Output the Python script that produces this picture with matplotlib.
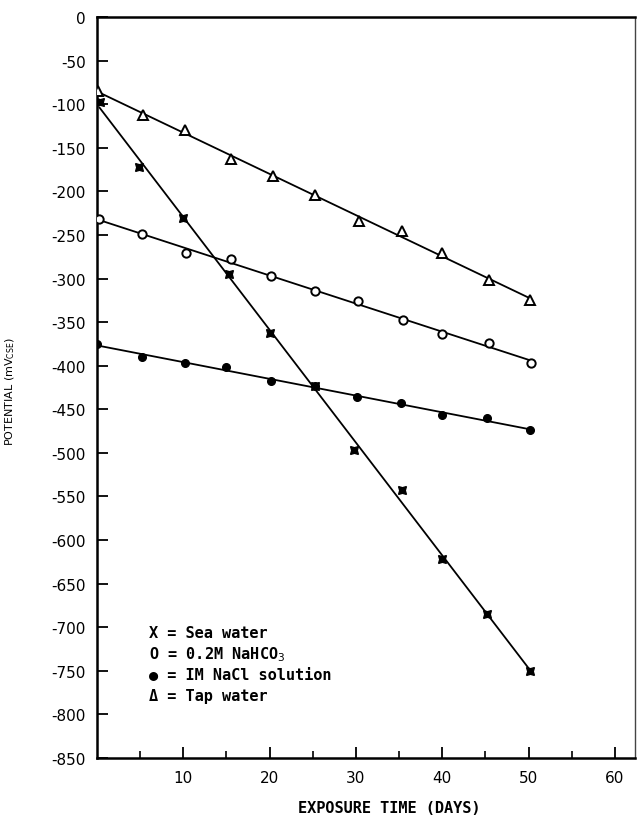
# potential vs exposure time, four electrolytes
import numpy as np
import matplotlib
matplotlib.use('Agg')
from matplotlib import pyplot as plt

plt.rcParams['axes.unicode_minus'] = False

# data (days, mV_CSE)
sea_days = [0.3, 4.9, 10.0, 15.3, 20.1, 25.2, 29.8, 35.3, 40.0, 45.2, 50.2]
sea_mv = [-97, -172, -230, -295, -362, -423, -497, -543, -622, -685, -750]

bicarb_days = [0.2, 5.2, 10.3, 15.5, 20.2, 25.3, 30.2, 35.5, 40.0, 45.4, 50.3]
bicarb_mv = [-232, -249, -271, -277, -297, -314, -326, -348, -364, -374, -397]

nacl_days = [0.0, 5.2, 10.2, 14.9, 20.2, 25.2, 30.1, 35.2, 40.0, 45.2, 50.2]
nacl_mv = [-375, -390, -397, -401, -418, -423, -436, -443, -457, -460, -474]

tap_days = [0.1, 5.3, 10.2, 15.5, 20.4, 25.2, 30.4, 35.3, 40.0, 45.4, 50.2]
tap_mv = [-85, -112, -130, -163, -182, -204, -234, -246, -271, -302, -325]

legend_lines = ['X = Sea water', 'O = 0.2M NaHCO$_3$',
                '\u25CF = IM NaCl solution', '\u0394 = Tap water']

fig = plt.figure(figsize=(6.38, 8.2), dpi=100)
ax = fig.add_axes([0.152, 0.0744, 0.843, 0.9036])

series = [
    (sea_days, sea_mv, dict(marker=(4, 1, 45), ms=8, mfc='k', mec='k', mew=1.0)),
    (bicarb_days, bicarb_mv, dict(marker='o', ms=6, mfc='white', mec='k', mew=1.4)),
    (nacl_days, nacl_mv, dict(marker='o', ms=5.5, mfc='k', mec='k')),
    (tap_days, tap_mv, dict(marker='^', ms=7, mfc='white', mec='k', mew=1.4)),
]
for d, v, style in series:
    d = np.array(d)
    v = np.array(v)
    k, b = np.polyfit(d, v, 1)
    xx = np.array([d[0], d[-1]])
    ax.plot(xx, k * xx + b, color='k', lw=1.3, zorder=2)
    ax.plot(d, v, ls='none', zorder=3, **style)

ax.set_xlim(0, 62.3)
ax.set_ylim(-850, 0)
ax.set_xticks([10, 20, 30, 40, 50, 60])
ax.set_xticks([5, 15, 25, 35, 45, 55], minor=True)
ax.set_yticks(np.arange(-850, 1, 50))
ax.tick_params(axis='both', direction='in', length=8, width=1.3,
               labelsize=11, colors='k')
ax.tick_params(axis='x', pad=9)
ax.tick_params(axis='y', pad=8)
ax.tick_params(axis='x', which='minor', direction='in', length=5, width=1.2)

for s in ['left', 'bottom', 'top']:
    ax.spines[s].set_linewidth(1.8)
ax.spines['right'].set_linewidth(1.0)
ax.spines['right'].set_color('#444444')

for i, t in enumerate(legend_lines):
    fig.text(149 / 638, 1 - (634 + 21 * i) / 820, t, fontsize=11,
             family='DejaVu Sans Mono', weight='bold', va='center', ha='left')

fig.text(389 / 638, 1 - 809 / 820, 'EXPOSURE TIME (DAYS)', fontsize=11,
         family='DejaVu Sans Mono', weight='bold', ha='center', va='center')
fig.text(10 / 638, 1 - 392 / 820, 'POTENTIAL (mV$_{\\mathrm{CSE}}$)',
         fontsize=8, rotation=90, ha='center', va='center')

fig.savefig('out.png', dpi=100)
